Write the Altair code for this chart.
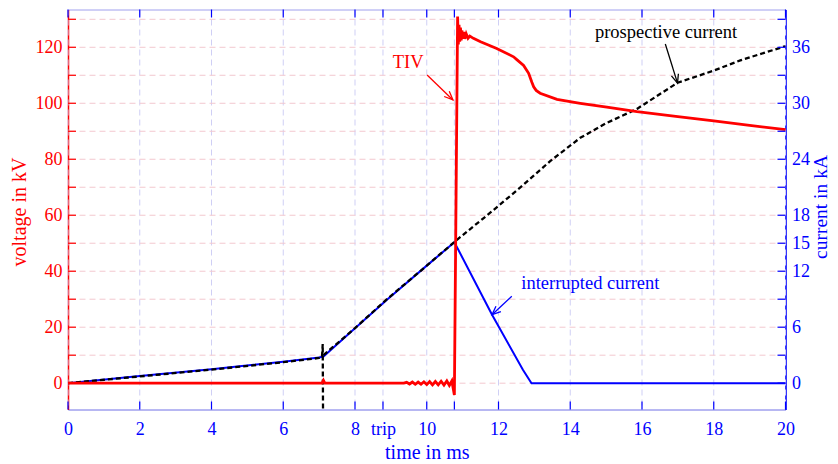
import altair as alt
import pandas as pd

# ---------------- data ----------------
# transient voltage (kV) over time (ms)
volt_t = [0.0, 7.08, 7.12, 7.16, 9.36, 9.44, 9.52, 9.60, 9.68, 9.76, 9.84, 9.92,
          10.00, 10.08, 10.16, 10.24, 10.32, 10.40, 10.48, 10.56, 10.63, 10.70,
          10.77, 10.86, 10.88, 10.90, 10.92, 10.94, 10.96, 10.98, 11.00, 11.03,
          11.06, 11.10, 11.15, 11.20, 11.30, 11.50, 11.95, 12.42, 12.51, 12.70,
          12.84, 12.93, 12.98, 13.05, 13.16, 13.63, 14.28, 15.02, 15.86, 17.0,
          18.0, 19.0, 20.0]
volt_kv = [0.0, 0.0, 1.0, 0.0, 0.0, 0.3, -0.3, 0.4, -0.4, 0.4, -0.4, 0.5,
           -0.5, 0.6, -0.6, 0.6, -0.6, 0.7, -0.7, 0.8, -0.8, 0.8,
           -4.2, 131.0, 121.0, 128.0, 122.0, 127.0, 122.5, 126.0, 123.0, 125.5,
           123.0, 124.8, 123.2, 124.0, 123.2, 122.0, 119.6, 116.6, 115.6, 113.5,
           110.7, 107.5, 105.9, 104.6, 103.6, 101.4, 100.0, 98.6, 97.0, 95.2,
           93.7, 92.1, 90.6]

# interrupted current (kA)
intr_t = [0.0, 2.0, 4.0, 6.0, 7.0, 7.12, 8.0, 8.89, 10.0, 10.77, 10.88, 11.82, 12.68, 12.92, 20.0]
intr_ka = [0.0, 0.78, 1.5, 2.3, 2.75, 2.86, 5.9, 8.95, 12.6, 15.1, 14.3, 7.34, 1.43, 0.0, 0.0]

# prospective current (kA); two traces: before and after the spike at ~7.1 ms
prosp_t = [0.0, 2.0, 4.0, 6.0, 7.0, 7.08, 7.10, 7.11,
           7.12, 8.0, 8.89, 10.0, 10.79, 11.77, 12.60, 13.44, 14.28, 15.02,
           15.86, 16.99, 18.0, 18.74, 19.95, 20.0]
prosp_ka = [0.0, 0.72, 1.45, 2.25, 2.7, 2.8, 4.2, -4.0,
            3.0, 5.9, 9.0, 12.6, 15.2, 18.27, 20.95, 23.8, 26.3, 27.9,
            29.4, 32.2, 33.5, 34.6, 36.06, 36.1]
prosp_seg = ["a", "a", "a", "a", "a", "a", "a", "a",
             "b", "b", "b", "b", "b", "b", "b", "b", "b", "b",
             "b", "b", "b", "b", "b", "b"]

# axis ticks
x_ticks = [0, 2, 4, 6, 8, 8.78, 10, 10.77, 12, 14, 16, 18, 20]
v_labels = [0, 20, 40, 60, 80, 100, 120]
v_ticks = [0, 10, 20, 30, 40, 50, 60, 70, 80, 90, 100, 110, 120, 130]
i_labels = [0, 6, 12, 15, 18, 24, 30, 36]
i_ticks = [0, 3, 6, 9, 12, 15, 18, 21, 24, 27, 30, 33, 36, 39]

# annotations (text anchor, arrow start, arrow end) in data units
tiv_text = ["TIV"]
tiv_pos = [9.48, 112.6]
tiv_arrow_t = [10.01, 10.73]
tiv_arrow_v = [110.1, 101.2]

prosp_text = ["prospective current"]
prosp_pos = [16.67, 37.0]
prosp_arrow_t = [16.65, 16.99]
prosp_arrow_i = [36.35, 32.16]

intr_text = ["interrupted current"]
intr_pos = [14.56, 10.13]
intr_arrow_t = [12.37, 11.82]
intr_arrow_i = [9.31, 7.34]

# ---------------- chart ----------------
W, H = 717.5, 400
FONT = "Liberation Serif"
RED, BLUE = "#ff0000", "#0000ff"
PINK_GRID = "#f3c8cf"
LAV_GRID = "#cfcff5"
FRAME = "#a0a0ee"
ARROW = "M-0.42,1 L0,0 L0.42,1"

xs = alt.Scale(domain=[0, 20], nice=False, zero=False)
vs = alt.Scale(domain=[-9.4, 133.5], nice=False, zero=False)
cs = alt.Scale(domain=[-2.82, 40.05], nice=False, zero=False)

df_v = pd.DataFrame({"t": volt_t, "v": volt_kv})
df_i = pd.DataFrame({"t": intr_t, "i": intr_ka})
df_p = pd.DataFrame({"t": prosp_t, "i": prosp_ka, "seg": prosp_seg})
df_xt = pd.DataFrame({"t": x_ticks})
df_vt = pd.DataFrame({"v": v_ticks})
df_it = pd.DataFrame({"i": i_ticks})

lab_expr = "datum.value == 8.78 ? 'trip' : (datum.value == 10.77 ? '' : datum.label)"

x_axis = alt.Axis(
    values=x_ticks, labelExpr=lab_expr, format="d",
    ticks=False, domainColor=FRAME, grid=False,
    labelColor=BLUE, labelFont=FONT, labelFontSize=18, labelPadding=11,
    labelFlush=False, labelOverlap=False,
    title="time in ms", titleColor=BLUE, titleFont=FONT, titleFontSize=20,
    titleFontWeight="normal", titleBaseline="alphabetic", titleX=W / 2, titleY=49,
)
v_axis = alt.Axis(
    orient="left", values=v_labels, ticks=False, grid=False,
    domainColor=RED, domainWidth=1.5,
    labelColor=RED, labelFont=FONT, labelFontSize=18, labelPadding=6,
    labelFlush=False, labelOverlap=False,
    title="voltage in kV", titleColor=RED, titleFont=FONT, titleFontSize=20,
    titleFontWeight="normal", titleAngle=270, titleAlign="center",
    titleBaseline="alphabetic", titleX=-43, titleY=202,
)
i_axis = alt.Axis(
    orient="right", values=i_labels, ticks=False, grid=False,
    domainColor=BLUE, domainWidth=1.5,
    labelColor=BLUE, labelFont=FONT, labelFontSize=18, labelPadding=6,
    labelFlush=False, labelOverlap=False,
    title="current in kA", titleColor=BLUE, titleFont=FONT, titleFontSize=19.5,
    titleFontWeight="normal", titleAngle=270, titleAlign="center",
    titleBaseline="alphabetic", titleX=41, titleY=197,
)

# every layer shares the same x axis definition so that it merges cleanly
X = lambda f="t": alt.X(f"{f}:Q", scale=xs, axis=x_axis, title="time in ms")
YI = lambda f="i": alt.Y(f"{f}:Q", scale=cs, axis=None)
YV = lambda f="v": alt.Y(f"{f}:Q", scale=vs, axis=None)

layers = []
# grid (below all lines)
layers.append(alt.Chart(df_xt).mark_rule(color=LAV_GRID, strokeWidth=1, strokeDash=[6, 4]).encode(x=X()))
layers.append(alt.Chart(df_it).mark_rule(color=PINK_GRID, strokeWidth=1, strokeDash=[6, 4]).encode(y=YI()))

# interrupted current (owns right axis)
layers.append(alt.Chart(df_i).mark_line(color=BLUE, strokeWidth=2).encode(
    x=X(),
    y=alt.Y("i:Q", scale=cs, axis=i_axis),
))
# prospective current
layers.append(alt.Chart(df_p).mark_line(color="black", strokeWidth=2.3, strokeDash=[5, 3], clip=True).encode(
    x=X(), y=YI(), detail="seg:N"
))
# voltage (owns left axis)
layers.append(alt.Chart(df_v).mark_line(color=RED, strokeWidth=2.8).encode(
    x=X(), y=alt.Y("v:Q", scale=vs, axis=v_axis)
))

# inward ticks
layers.append(alt.Chart(df_xt).mark_rule(color=BLUE, strokeWidth=1.2).encode(
    x=X(), y=alt.value(0), y2=alt.value(8)))
layers.append(alt.Chart(df_xt).mark_rule(color=BLUE, strokeWidth=1.2).encode(
    x=X(), y=alt.value(H - 8), y2=alt.value(H)))
layers.append(alt.Chart(df_it).mark_rule(color=BLUE, strokeWidth=1.2).encode(
    y=YI(), x=alt.value(W - 8), x2=alt.value(W)))
layers.append(alt.Chart(df_vt).mark_rule(color=RED, strokeWidth=1.2).encode(
    y=YV(), x=alt.value(0), x2=alt.value(8)))


def annotation(text, pos, at, ay, angle, color, yfun):
    tdf = pd.DataFrame({"t": [pos[0]], "y": [pos[1]], "label": text})
    adf = pd.DataFrame({"t": at, "y": ay})
    hdf = pd.DataFrame({"t": [at[-1]], "y": [ay[-1]]})
    txt = alt.Chart(tdf).mark_text(
        font=FONT, fontSize=18.5, color=color, align="center", baseline="alphabetic"
    ).encode(x=X(), y=yfun("y"), text="label:N")
    line = alt.Chart(adf).mark_line(color=color, strokeWidth=1.3).encode(x=X(), y=yfun("y"))
    head = alt.Chart(hdf).mark_point(
        shape=ARROW, size=300, filled=False, stroke=color, strokeWidth=1.3,
        opacity=1, angle=angle
    ).encode(x=X(), y=yfun("y"))
    return [txt, line, head]


layers += annotation(prosp_text, prosp_pos, prosp_arrow_t, prosp_arrow_i, 162.5, "black", YI)
layers += annotation(intr_text, intr_pos, intr_arrow_t, intr_arrow_i, 227.5, BLUE, YI)
layers += annotation(tiv_text, tiv_pos, tiv_arrow_t, tiv_arrow_v, 134.2, RED, YV)

chart = (
    alt.layer(*layers)
    .resolve_scale(y="independent")
    .properties(
        width=W, height=H,
        autosize=alt.AutoSizeParams(type="none"),
        padding={"left": 60, "top": 1.5, "right": 44, "bottom": 54},
        background="white",
    )
    .configure_view(stroke=FRAME, strokeWidth=1)
)

chart.save("out.html", embed_options={"renderer": "svg", "actions": False})
